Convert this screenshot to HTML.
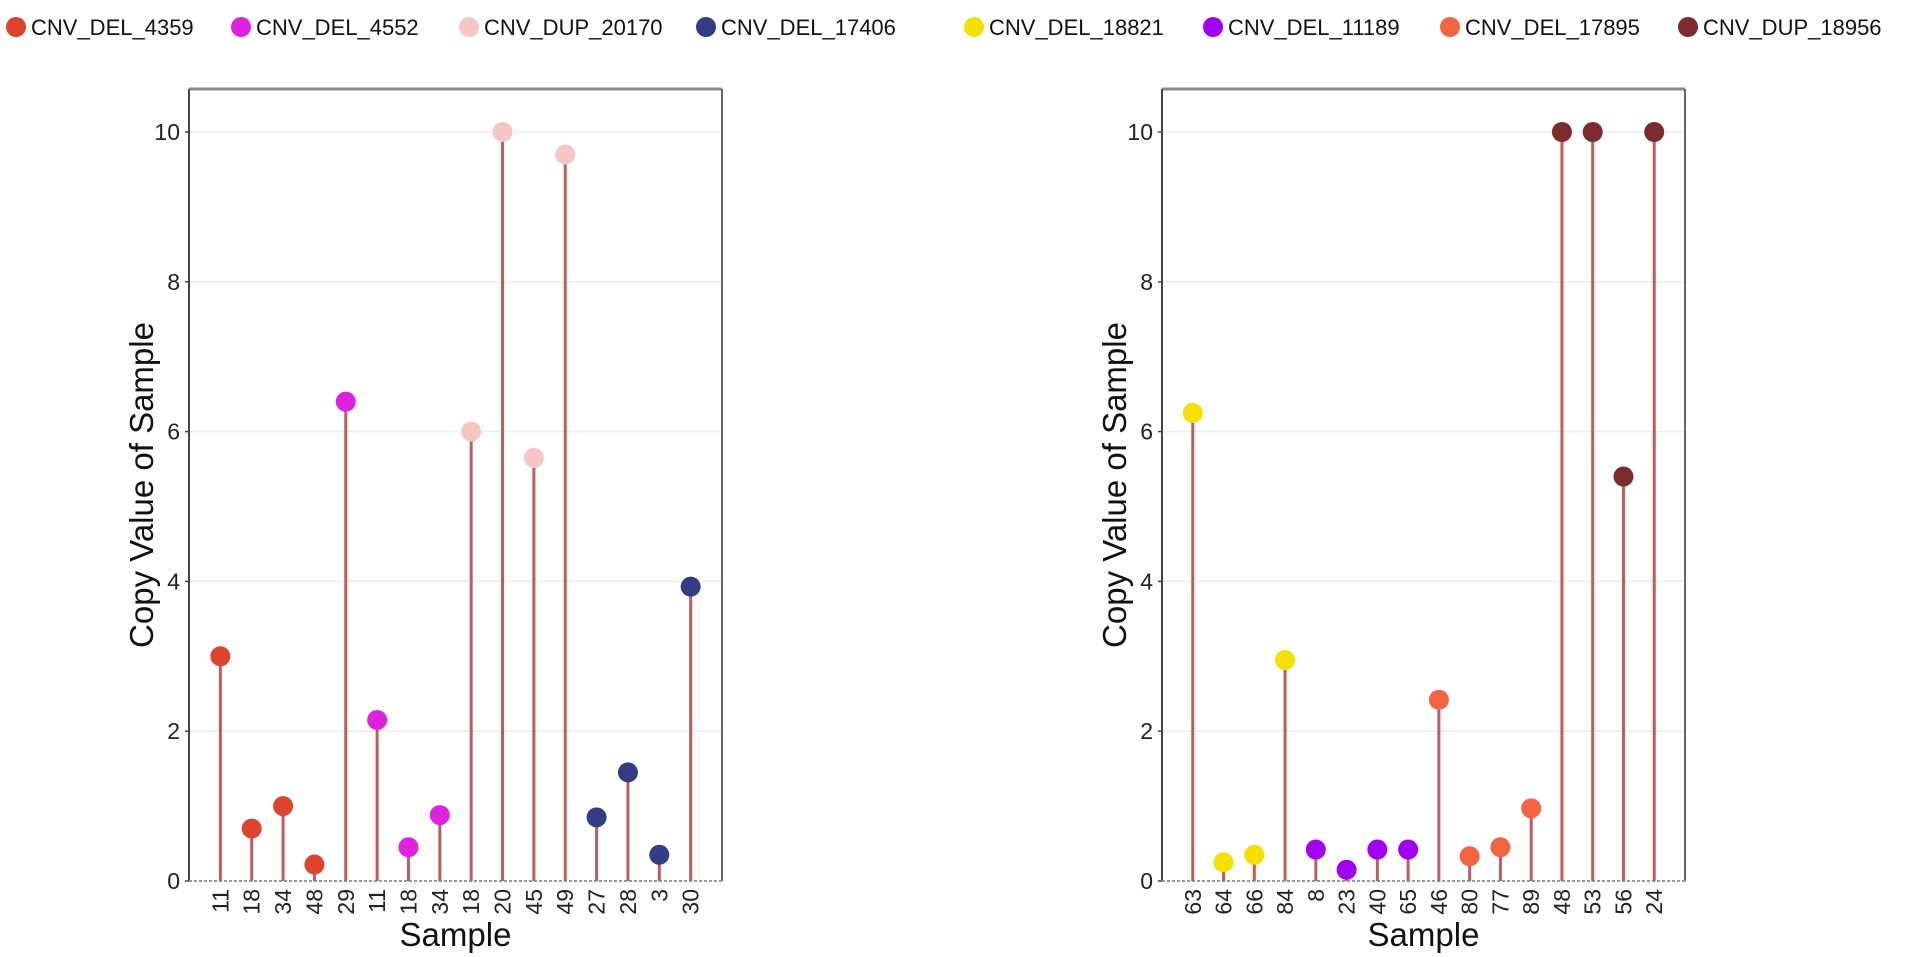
<!DOCTYPE html>
<html><head><meta charset="utf-8">
<style>
html,body{margin:0;padding:0;background:#fff;}
svg{display:block;font-family:"Liberation Sans",Arial,sans-serif;}
</style></head>
<body>
<svg id="chart" width="1908" height="957" viewBox="0 0 1908 957" xmlns="http://www.w3.org/2000/svg"></svg>
<script>
const legendNames = ["CNV_DEL_4359","CNV_DEL_4552","CNV_DUP_20170","CNV_DEL_17406","CNV_DEL_18821","CNV_DEL_11189","CNV_DEL_17895","CNV_DUP_18956"];
const legendColors = ["#e0432b","#e021e0","#f8c6c2","#333d86","#f6e000","#a200f2","#f46440","#7d2b2b"];
const leftSamples = ["11","18","34","48","29","11","18","34","18","20","45","49","27","28","3","30"];
const leftValues = [3.0,0.7,1.0,0.22,6.4,2.15,0.45,0.88,6.0,10,5.65,9.7,0.85,1.45,0.35,3.93];
const leftGroups = [0,0,0,0,1,1,1,1,2,2,2,2,3,3,3,3];
const rightSamples = ["63","64","66","84","8","23","40","65","46","80","77","89","48","53","56","24"];
const rightValues = [6.25,0.25,0.35,2.95,0.42,0.15,0.42,0.42,2.42,0.33,0.45,0.97,10,10,5.4,10];
const rightGroups = [4,4,4,4,5,5,5,5,6,6,6,6,7,7,7,7];
const yTicks = [0,2,4,6,8,10];

const NS = "http://www.w3.org/2000/svg";
const svg = document.getElementById("chart");
function mk(tag, attrs, parent){
  const e = document.createElementNS(NS, tag);
  for (const k in attrs) e.setAttribute(k, attrs[k]);
  (parent||svg).appendChild(e);
  return e;
}

const legendX = [16,241,469,706,974,1213,1450,1688];
legendNames.forEach((n,i)=>{
  const g = mk("g",{});
  
  
  mk("circle",{cx:legendX[i],cy:27,r:10,fill:legendColors[i]},g);
  const t = mk("text",{x:legendX[i]+15,y:35,"font-size":"22",fill:"#111"},g);
  t.textContent = n;
});

function panel(id, L, R, samples, values, groups){
  const T = 89, y0 = 881, y10 = 132;
  const yScale = v => y0 + (y10 - y0) * v / 10;
  const step = (R - L) / (samples.length + 1);
  const xScale = i => L + step * (i + 1);
  const g = mk("g",{});
  
  
  yTicks.forEach(v=>{
    if (v===0) return;
    const gl = mk("line",{x1:L,x2:R,y1:yScale(v),y2:yScale(v),stroke:"#ededed","stroke-width":1.5},g);
    
    
  });
  mk("line",{x1:L,x2:R,y1:T,y2:T,stroke:"#8c8c8c","stroke-width":3},g);
  mk("line",{x1:R,x2:R,y1:T,y2:y0,stroke:"#666","stroke-width":2},g);
  const ya = mk("line",{x1:L,x2:L,y1:T,y2:y0,stroke:"#444","stroke-width":2},g);
  
  
  const xa = mk("line",{x1:L,x2:R,y1:y0,y2:y0,stroke:"#999","stroke-width":2,"stroke-dasharray":"3,2"},g);
  
  
  yTicks.forEach(v=>{
    mk("line",{x1:L-4,x2:L,y1:yScale(v),y2:yScale(v),stroke:"#444","stroke-width":1.5},g);
    const t = mk("text",{x:L-9,y:yScale(v)+8,"font-size":"23","text-anchor":"end",fill:"#222"},g);
    
    
    t.textContent = v;
  });
  samples.forEach((s,i)=>{
    const x = xScale(i), y = yScale(values[i]);
    const st = mk("line",{x1:x,x2:x,y1:y0,y2:y,stroke:"#c45a5a","stroke-width":3},g);
    
    
    const c = mk("circle",{cx:x,cy:y,r:10,fill:legendColors[groups[i]]},g);
    
    
    const t = mk("text",{x:0,y:0,"font-size":"23","text-anchor":"end",fill:"#222",transform:`translate(${x+8},${y0+8}) rotate(-90)`},g);
    
    
    t.textContent = s;
  });
  const xt = mk("text",{x:(L+R)/2,y:946,"font-size":"33","text-anchor":"middle",fill:"#111"},g);
  
  
  xt.textContent = "Sample";
  const yt = mk("text",{x:0,y:0,"font-size":"33","text-anchor":"middle",fill:"#111",transform:`translate(${L-36},${(T+y0)/2}) rotate(-90)`},g);
  
  
  yt.textContent = "Copy Value of Sample";
}
panel("left-panel", 189, 722, leftSamples, leftValues, leftGroups);
panel("right-panel", 1162, 1685, rightSamples, rightValues, rightGroups);
</script>
</body></html>
